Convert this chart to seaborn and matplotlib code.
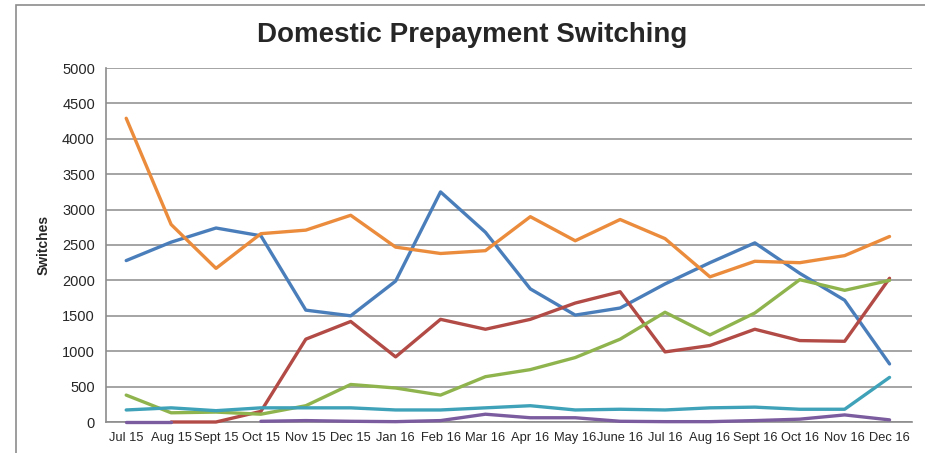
import numpy as np
import pandas as pd
import seaborn as sns
from matplotlib import pyplot as plt
from matplotlib.patches import Rectangle

months = ['Jul 15', 'Aug 15', 'Sept 15', 'Oct 15', 'Nov 15', 'Dec 15', 'Jan 16', 'Feb 16',
          'Mar 16', 'Apr 16', 'May 16', 'June 16', 'Jul 16', 'Aug 16', 'Sept 16', 'Oct 16',
          'Nov 16', 'Dec 16']

blue = [2280, 2540, 2740, 2630, 1580, 1500, 1990, 3250, 2680, 1880, 1510, 1610, 1950, 2250, 2530, 2100, 1720, 820]
orange = [4290, 2790, 2170, 2660, 2710, 2920, 2470, 2380, 2420, 2900, 2560, 2860, 2590, 2050, 2270, 2250, 2350, 2620]
red = [np.nan, 0, 0, 150, 1170, 1420, 920, 1450, 1310, 1450, 1680, 1840, 990, 1080, 1310, 1150, 1140, 2030]
green = [380, 130, 140, 110, 230, 530, 480, 380, 640, 740, 910, 1170, 1550, 1230, 1540, 2010, 1860, 2000]
teal = [170, 200, 160, 200, 200, 200, 170, 170, 200, 230, 170, 180, 170, 200, 210, 180, 180, 630]
purple = [0, 0, np.nan, 10, 20, 10, 5, 20, 110, 60, 60, 10, 5, 5, 20, 40, 100, 30]

series = {'Series 1': blue, 'Series 2': orange, 'Series 3': red,
          'Series 4': green, 'Series 5': teal, 'Series 6': purple}
colors = {'Series 1': '#4A7EBB', 'Series 2': '#EB8B3C', 'Series 3': '#B24A45',
          'Series 4': '#8FB44E', 'Series 5': '#3FA2B8', 'Series 6': '#7B5C9E'}

sns.set_style('white')
plt.rcParams['font.family'] = ['Liberation Sans', 'DejaVu Sans']

fig = plt.figure(figsize=(9.25, 4.53), dpi=100)
ax = fig.add_axes([106 / 925, 1 - 422 / 453, (912 - 106) / 925, (422 - 68) / 453])

# outer chart border (only top and left edges fall inside the picture)
fig.patches.append(Rectangle((16 / 925, -0.1), 1.2, 1 - 5 / 453 + 0.1, transform=fig.transFigure,
                             fill=False, edgecolor='#8c8c8c', linewidth=1.2))

x = np.arange(len(months))
for name, vals in series.items():
    vals = np.array(vals, dtype=float)
    # break the line at missing months
    ok = ~np.isnan(vals)
    seg_id = np.cumsum(~ok)
    for s in np.unique(seg_id[ok]):
        m = ok & (seg_id == s)
        sns.lineplot(x=x[m], y=vals[m], ax=ax, color=colors[name], linewidth=2.4,
                     legend=False, clip_on=False, zorder=5)

ax.set_xlim(-0.45, len(months) - 1 + 0.5)
ax.set_ylim(0, 5000)
ax.set_yticks(range(0, 5001, 500))
ax.set_xticks(x)
ax.set_xticklabels(months, fontsize=9.3)
ax.tick_params(axis='y', labelsize=10.5, pad=8, length=0)
ax.tick_params(axis='x', pad=7, length=0)
ax.yaxis.grid(True, color='#8c8c8c', linewidth=1.1)
ax.set_axisbelow(True)
for side in ['top', 'right']:
    ax.spines[side].set_visible(False)
for side in ['left', 'bottom']:
    ax.spines[side].set_color('#8c8c8c')
    ax.spines[side].set_linewidth(1.2)
    ax.spines[side].set_zorder(1)

ax.set_ylabel('Switches', fontsize=10, fontweight='bold', labelpad=8)
fig.text(472 / 925, 1 - 35 / 453, 'Domestic Prepayment Switching', ha='center', va='center',
         fontsize=20, fontweight='bold')

fig.savefig('out.png', dpi=100)
